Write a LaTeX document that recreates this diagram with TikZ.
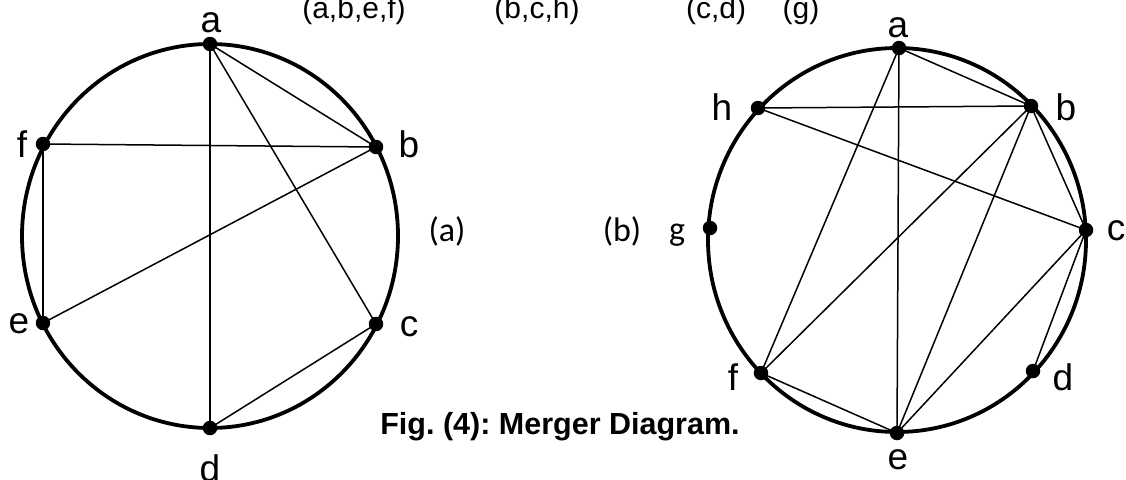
\documentclass[tikz,border=0pt]{standalone}
\usepackage{fontspec}
\setmainfont{Liberation Sans}
\newfontfamily\calib{Carlito}
\frenchspacing
\begin{document}
\begin{tikzpicture}[x=1pt,y=-1pt,
  dot/.style={circle,fill=black,inner sep=0pt,minimum size=14.5pt},
  rim/.style={line width=3.8pt},
  chord/.style={line width=1.5pt},
  lbl/.style={anchor=base,inner sep=0pt,font=\fontsize{37}{40}\selectfont},
  tagstyle/.style={anchor=base,inner sep=0pt,font=\calib\fontsize{34}{40}\selectfont},
  grpstyle/.style={anchor=base,inner sep=0pt,font=\fontsize{30}{34}\selectfont},
  capstyle/.style={anchor=base,inner sep=0pt,font=\bfseries\fontsize{30.5}{34}\selectfont}]
\useasboundingbox (0,0) rectangle (1126,479);
% left circle
\draw[rim] (210,236) ellipse [x radius=188, y radius=192];
\node[dot] (La) at (210,44) {};
\node[dot] (Lb) at (376,147) {};
\node[dot] (Lc) at (376,324) {};
\node[dot] (Ld) at (210,428) {};
\node[dot] (Le) at (43,323) {};
\node[dot] (Lf) at (43,144) {};
\draw[chord] (La.center) -- (Lb.center);
\draw[chord] (La.center) -- (Lc.center);
\draw[chord] (La.center) -- (Ld.center);
\draw[chord] (Lf.center) -- (Lb.center);
\draw[chord] (Lf.center) -- (Le.center);
\draw[chord] (Le.center) -- (Lb.center);
\draw[chord] (Ld.center) -- (Lc.center);
\node[lbl] (tLa) at (211,32) {a};
\node[lbl] (tLb) at (409,157) {b};
\node[lbl] (tLc) at (409,336) {c};
\node[lbl] (tLd) at (210,481) {d};
\node[lbl] (tLe) at (19,333) {e};
\node[lbl] (tLf) at (22,157) {f};
\node[tagstyle] (ta) at (447,241) {(a)};
% right circle
\draw[rim] (897,240) ellipse [x radius=189, y radius=192];
\node[dot] (Ra) at (899,48) {};
\node[dot] (Rb) at (1031,106) {};
\node[dot] (Rc) at (1086,230) {};
\node[dot] (Rd) at (1033,371) {};
\node[dot] (Re) at (897,433) {};
\node[dot] (Rf) at (761,373) {};
\node[dot] (Rg) at (710,228) {};
\node[dot] (Rh) at (758,108) {};
\draw[chord] (Ra.center) -- (Rb.center);
\draw[chord] (Ra.center) -- (Re.center);
\draw[chord] (Ra.center) -- (Rf.center);
\draw[chord] (Rh.center) -- (Rb.center);
\draw[chord] (Rh.center) -- (Rc.center);
\draw[chord] (Rb.center) -- (Rf.center);
\draw[chord] (Rb.center) -- (Re.center);
\draw[chord] (Rb.center) -- (Rc.center);
\draw[chord] (Rc.center) -- (Re.center);
\draw[chord] (Rc.center) -- (Rd.center);
\draw[chord] (Rf.center) -- (Re.center);
\node[lbl] (tRa) at (898,37) {a};
\node[lbl] (tRb) at (1066,120) {b};
\node[lbl] (tRc) at (1116,240) {c};
\node[lbl] (tRd) at (1063,390) {d};
\node[lbl] (tRe) at (898,469) {e};
\node[lbl] (tRf) at (733,390) {f};
\node[lbl] (tRh) at (722,120) {h};
\node[tagstyle] (tRg) at (677,240) {g};
\node[tagstyle] (tb) at (622,241) {(b)};
% top groups
\node[grpstyle] (g1) at (354,18) {(a,b,e,f)};
\node[grpstyle] (g2) at (537,18) {(b,c,h)};
\node[grpstyle] (g3) at (716,18) {(c,d)};
\node[grpstyle] (g4) at (801,18) {(g)};
% caption
\node[capstyle] (caption) at (560,434) {Fig. (4): Merger Diagram.};
\end{tikzpicture}
\end{document}
